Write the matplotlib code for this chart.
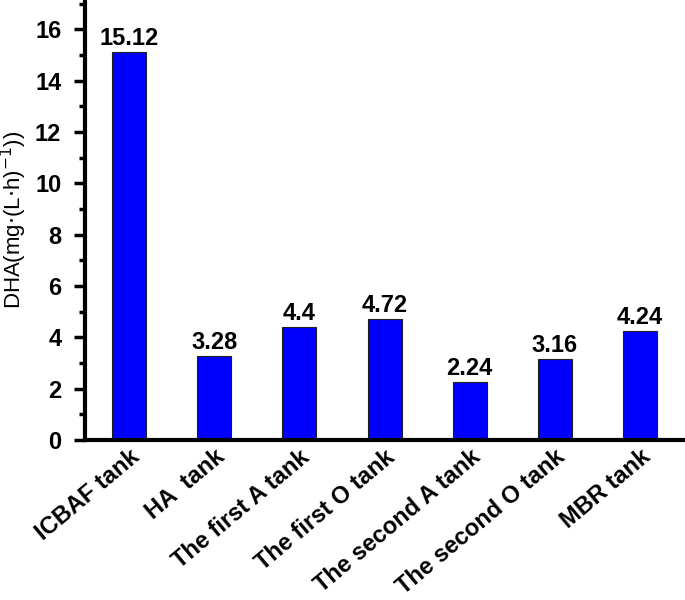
import numpy as np
import matplotlib.pyplot as plt
from matplotlib.ticker import MultipleLocator

# data
categories = ['ICBAF tank', 'HA  tank', 'The first A tank', 'The first O tank',
              'The second A tank', 'The second O tank', 'MBR tank']
values = [15.12, 3.28, 4.4, 4.72, 2.24, 3.16, 4.24]
value_labels = ['15.12', '3.28', '4.4', '4.72', '2.24', '3.16', '4.24']

plt.rcParams['font.family'] = ['Liberation Sans', 'DejaVu Sans']

fig = plt.figure(figsize=(6.85, 6.0), dpi=100)
ax = fig.add_axes([0.124, 0.267, 0.876, 0.733])

x = np.arange(len(categories))
ax.bar(x, values, width=0.4, color='#0000FF', edgecolor='#202020', linewidth=0.8)

# value labels on top of the bars
for xi, v, lab in zip(x, values, value_labels):
    ax.text(xi, v + 0.08, lab, ha='center', va='bottom', fontsize=17, fontweight='bold')

ax.set_xlim(-0.52, 6.53)
ax.set_ylim(0, 17.15)
ax.yaxis.set_major_locator(MultipleLocator(2))
ax.yaxis.set_minor_locator(MultipleLocator(1))

ax.set_xticks(x)
ax.set_xticklabels(categories, rotation=40, ha='right', rotation_mode='anchor',
                   fontsize=17, fontweight='bold')
for lab in ax.get_yticklabels():
    lab.set_fontweight('bold')
ax.tick_params(axis='y', which='major', length=8, width=2.5, labelsize=17, direction='out', pad=9)
ax.tick_params(axis='y', which='minor', length=4, width=2.5, direction='out')
ax.tick_params(axis='x', length=0, pad=4)

ax.spines['top'].set_visible(False)
ax.spines['right'].set_visible(False)
ax.spines['left'].set_linewidth(3)
ax.spines['bottom'].set_linewidth(3)

ax.set_ylabel('DHA(mg$\\cdot$(L$\\cdot$h)$^{-1}$))', fontsize=16, labelpad=4)

fig.savefig('out.png', dpi=100)
